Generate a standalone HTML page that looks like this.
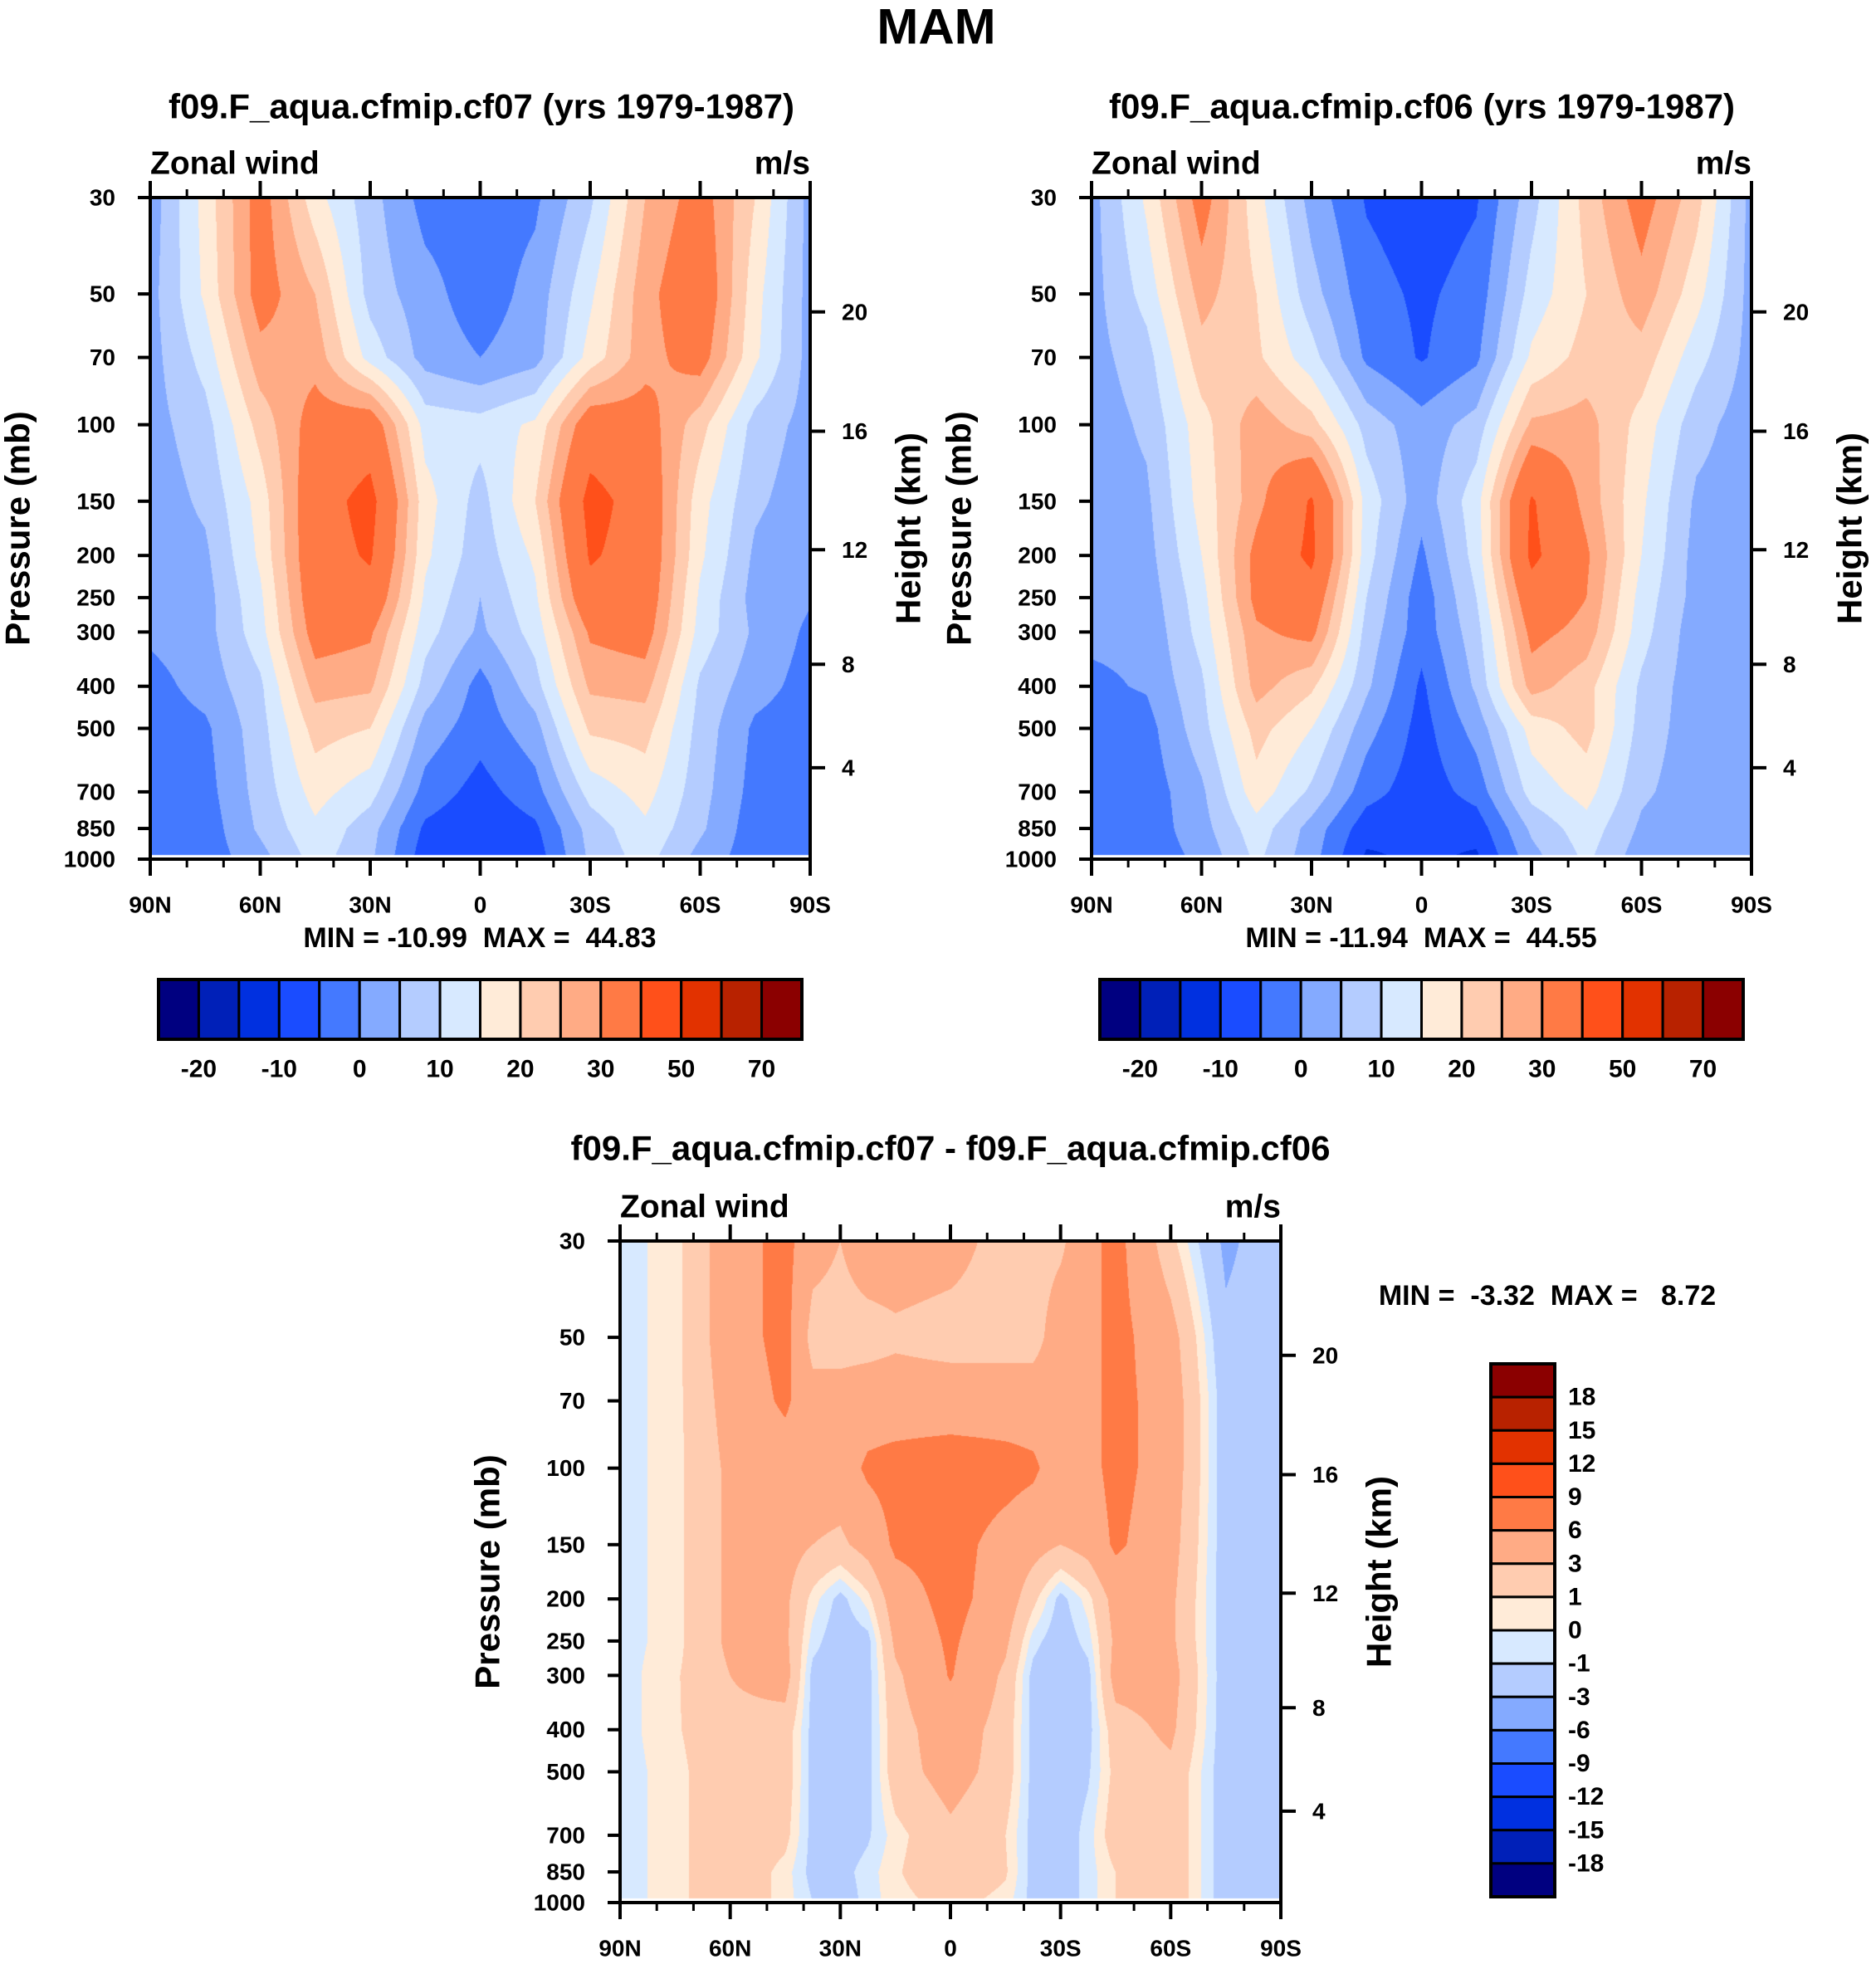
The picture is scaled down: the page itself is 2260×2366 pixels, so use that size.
<!DOCTYPE html>
<html><head><meta charset="utf-8">
<style>
html,body{margin:0;padding:0;background:#fff;}
body{width:2260px;height:2366px;position:relative;overflow:hidden;font-family:"Liberation Sans",Arial,sans-serif;font-weight:bold;color:#000;}
canvas{position:absolute;}
svg{position:absolute;left:0;top:0;}
</style></head>
<body>
<canvas id="c1" style="left:181px;top:238px" width="795" height="797"></canvas>
<canvas id="c2" style="left:1315px;top:238px" width="795" height="797"></canvas>
<canvas id="c3" style="left:747px;top:1495px" width="796" height="797"></canvas>
<svg id="ov" width="2260" height="2366"></svg>
<script>
// ---- data ----
const lats = [90,75,60,45,30,15,0,-15,-30,-45,-60,-75,-90];
const diffLats = [90,75,60,45,37.5,30,22.5,15,0,-15,-22.5,-30,-37.5,-45,-60,-75,-90];
const pLevels = [30,50,70,100,150,200,250,300,400,500,700,850,1000];
const windLevels = [-20,-15,-10,-5,0,5,10,15,20,25,30,40,50,60,70];
const windLabels = ["-20","-10","0","10","20","30","50","70"];
const diffLevels = [-18,-15,-12,-9,-6,-3,-1,0,1,3,6,9,12,15,18];
const diffLabels = ["-18","-15","-12","-9","-6","-3","-1","0","1","3","6","9","12","15","18"];
const colors16 = ["#000080","#0020b8","#0030e0","#1a4cff","#4479ff","#84aaff","#b4ccff","#d7e9ff","#ffebd8","#ffccb0","#ffab85","#ff7a45","#ff501a","#e23200","#b82200","#8b0000"];
const pressTicks = [30,50,70,100,150,200,250,300,400,500,700,850,1000];
const heightTicks = [20,16,12,8,4];
const heightPress = [55,103.5,194,356,616];
const latTicks = ["90N","60N","30N","0","30S","60S","90S"];
const cf07 = [
 [2,17,33,17,7,-2,-3,-1,9,25,33,20,3],
 [3,16,33,25,8,2,-3,2,14,28,36,17,3],
 [3,12,28,28,13,3,0,3,17,28,33,16,3],
 [3,8,22,33,35,13,12,16,35,33,22,8,3],
 [2,6,17,36,43,17,8,20,43,36,17,6,2],
 [2,4,16,36,41,16,7,16,41,36,16,4,1],
 [1,3,14,35,37,14,5,14,37,35,14,3,0.5],
 [1,3,13,33,31,12,4,12,31,33,13,4,-1],
 [-2,2,9,27,26,8,-2,8,26,27,9,2,-2],
 [-3,-1,8,22,20,3,-3,3,21,22,8,-1,-3],
 [-3,-2,7,17,12,-2,-7,-2,12,17,7,-2,-3],
 [-3,-3,6,14,7,-6,-9,-6,7,14,6,-3,-3],
 [-3,-3,3,12,6,-8,-9,-8,6,12,3,-3,-3]];
const cf06 = [
 [3,16,33,17,3,-5.5,-8,-5.5,8,22,33,22,3],
 [3,12,27,20,7,-3,-6,-3,12,20,28,17,3],
 [3,8,23,21,12,-1,-5.5,-1,16,22,23,12,3],
 [2,6,18,28,22,8,2,7,26,27,18,7,2],
 [2,4,17,28,41,13,2,13,41,28,16,4,2],
 [1,3,15,32,42,12,-1,12,42,31,15,3,1],
 [1,2,13,32,36,10,-3,10,36,30,13,3,1],
 [1,1,12,29,32,8,-3,8,32,28,12,2,1],
 [-1,0.5,9,27,21,6,-6,6,27,22,9,2,1],
 [-3,-2,8,22,15,2,-7,2,17,22,8,2,1],
 [-3,-3,4,18,9,-3,-8,-3,12,17,6,2,2],
 [-3,-3,3,13,3,-8,-9,-8,6,13,4,1,1],
 [-3,-3,1,11,2,-11,-9,-11,3,11,2,0.5,1]];
const diff = [
 [-0.5,0.5,4.5,7,4,3,4.5,4.5,4,2,2,2.5,5,7,1.5,-3.5,-1.5],
 [-0.5,0.5,4.5,7,2,2,2,2.5,2,2,2,4.5,5,7,4,-2.5,-1.5],
 [-0.5,0.5,4,6.5,4,4,4.5,4.5,4.5,4.5,4.5,4.5,5,7,4.5,-2,-1.5],
 [-0.5,0.5,3.5,4.5,4.5,4.5,6.5,7,7.5,7,6.5,4.5,5,7,4.5,-2,-1.5],
 [-0.5,0.5,3.5,4,3,2.5,4,6.5,7,5,4,3,4,6.5,4,-2,-1.5],
 [-0.5,0.5,3.5,3.5,0.5,-1.5,0.5,4.5,7,4.5,1.5,-1.5,0.5,4,3.5,-2,-1.5],
 [-0.5,0.5,3.5,3.5,-0.5,-2,-1.5,3.5,6.5,3.5,-0.5,-2,-0.5,3.5,3.5,-2,-1.5],
 [-0.5,0.8,3,4,-1.5,-2,-1.5,2.5,6.2,2.5,-1.5,-2.5,-1.5,4,4,-2,-1.5],
 [-0.5,0.8,2.5,2,-1.5,-2,-1.5,2,4.5,2,-1.5,-2,-1.5,2,3.5,-2,-1.5],
 [-0.5,0.5,2.5,2,-1.5,-2,-1.5,2,4,2,-1.5,-2,-1.2,1.5,2.5,-2,-1.5],
 [-0.5,0.5,2.5,1.5,-1.5,-2,-1.2,0.5,2.5,1,-1.5,-2,-0.5,2,2.5,-2,-1.5],
 [-0.5,0.5,2.5,0.5,-1.5,-1.5,-0.5,0.8,2.5,1.2,-1.5,-2,-0.5,1,2.5,-2,-1.5],
 [-0.5,0.5,2.5,0.5,-1,-2,-0.5,0.5,1.5,0.5,-1.5,-2,-0.5,1,2.5,-2,-1.5]];

// ---- helpers ----
const LN = Math.log(1000/30);
function pFrac(p){return Math.log(p/30)/LN;}
function hexRGB(h){return [parseInt(h.substr(1,2),16),parseInt(h.substr(3,2),16),parseInt(h.substr(5,2),16)];}
const rgb16 = colors16.map(hexRGB);
const lnP = pLevels.map(p=>Math.log(p));
function sample(grid, la, lat, p){
  let i0=0; while(i0<la.length-2 && la[i0+1]>lat) i0++;
  let tx=(la[i0]-lat)/(la[i0]-la[i0+1]); tx=Math.max(0,Math.min(1,tx));
  const lp=Math.log(p);
  let j0=0; while(j0<pLevels.length-2 && lnP[j0+1]<lp) j0++;
  let ty=(lp-lnP[j0])/(lnP[j0+1]-lnP[j0]); ty=Math.max(0,Math.min(1,ty));
  const a=grid[j0][i0],b=grid[j0][i0+1],c=grid[j0+1][i0],d=grid[j0+1][i0+1];
  return (a*(1-tx)+b*tx)*(1-ty)+(c*(1-tx)+d*tx)*ty;
}
function drawField(id, grid, la, levels){
  const cv=document.getElementById(id), ctx=cv.getContext('2d');
  const W=cv.width,H=cv.height, img=ctx.createImageData(W,H);
  for(let y=0;y<H;y++){
    const p=30*Math.exp((y+0.5)/H*LN);
    for(let x=0;x<W;x++){
      const lat=90-180*(x+0.5)/W;
      const v=sample(grid,la,lat,p);
      let k=0; while(k<levels.length && v>=levels[k]) k++;
      const c=rgb16[k], o=(y*W+x)*4;
      img.data[o]=c[0];img.data[o+1]=c[1];img.data[o+2]=c[2];img.data[o+3]=255;
    }
  }
  ctx.putImageData(img,0,0);
  ctx.fillStyle="#fff"; ctx.fillRect(0,H-5,W,4);
}
drawField('c1',cf07,lats,windLevels);
drawField('c2',cf06,lats,windLevels);
drawField('c3',diff,diffLats,diffLevels);

const NS="http://www.w3.org/2000/svg", ov=document.getElementById('ov');
function mk(tag,attrs,parent){const e=document.createElementNS(NS,tag);for(const k in attrs)e.setAttribute(k,attrs[k]);(parent||ov).appendChild(e);return e;}
function txt(s,x,y,size,anchor,parent,rot){
  const t=mk('text',{x:x,y:y,'font-size':size,'text-anchor':anchor||'middle','dominant-baseline':'central','font-family':'Liberation Sans, Arial, sans-serif','font-weight':'bold'},parent);
  if(rot) t.setAttribute('transform','rotate(-90 '+x+' '+y+')');
  t.textContent=s; return t;
}
function axes(L,T,W,H,name){
  const g=mk('g',{});
  
  
  mk('rect',{x:L,y:T,width:W,height:H,fill:'none',stroke:'#000','stroke-width':4},g);
  pressTicks.forEach(p=>{
    const y=T+H*pFrac(p);
    mk('line',{x1:L-15,x2:L,y1:y,y2:y,stroke:'#000','stroke-width':4},g);
    const t=txt(String(p),L-42,y,28,'end',g);
    
    
  });
  heightTicks.forEach((h,i)=>{
    const y=T+H*pFrac(heightPress[i]);
    mk('line',{x1:L+W,x2:L+W+18,y1:y,y2:y,stroke:'#000','stroke-width':4},g);
    const t=txt(String(h),L+W+38,y,28,'start',g);
    
    
  });
  for(let k=0;k<=18;k++){
    const x=L+W*k/18, major=(k%3===0), len=major?20:10;
    mk('line',{x1:x,x2:x,y1:T,y2:T-len,stroke:'#000','stroke-width':major?4:3},g);
    mk('line',{x1:x,x2:x,y1:T+H,y2:T+H+len,stroke:'#000','stroke-width':major?4:3},g);
    if(major){
      const t=txt(latTicks[k/3],x,T+H+55,28,'middle',g);
      
      
    }
  }
  const pt=txt('Pressure (mb)',L-160,T+H/2,42,'middle',g,true);
  
  
  const ht=txt('Height (km)',L+W+118,T+H/2,42,'middle',g,true);
  
  
  const zw=txt('Zonal wind',L,T-41,39,'start',g);
  
  
  const un=txt('m/s',L+W,T-41,39,'end',g);
  
  
}
axes(181,238,795,797,'cf07');
axes(1315,238,795,797,'cf06');
axes(747,1495,796,797,'diff');

function hbar(L,T,W,H,name){
  const g=mk('g',{});
  
  
  const bw=W/16;
  colors16.forEach((c,i)=>{
    const r=mk('rect',{x:L+i*bw,y:T,width:bw,height:H,fill:c,stroke:'#000','stroke-width':3},g);
    
    
  });
  mk('rect',{x:L,y:T,width:W,height:H,fill:'none',stroke:'#000','stroke-width':4},g);
  windLabels.forEach((s,i)=>{
    const t=txt(s,L+bw*(1+2*i),T+H+36,30,'middle',g);
    
    
  });
}
hbar(191,1180,775,72,'cf07-colorbar');
hbar(1325,1180,775,72,'cf06-colorbar');

(function(){
  const L=1796,T=1643,W=77,H=642,g=mk('g',{});
  
  
  const bh=H/16;
  for(let i=0;i<16;i++){
    const r=mk('rect',{x:L,y:T+i*bh,width:W,height:bh,fill:colors16[15-i],stroke:'#000','stroke-width':3},g);
    
    
  }
  mk('rect',{x:L,y:T,width:W,height:H,fill:'none',stroke:'#000','stroke-width':4},g);
  for(let i=0;i<15;i++){
    const t=txt(diffLabels[14-i],L+W+16,T+bh*(i+1),30,'start',g);
    
    
  }
})();

const titles=[["MAM",1128,32,60,'main-title'],
 ["f09.F_aqua.cfmip.cf07 (yrs 1979-1987)",580,128,42,'cf07-title'],
 ["f09.F_aqua.cfmip.cf06 (yrs 1979-1987)",1713,128,42,'cf06-title'],
 ["f09.F_aqua.cfmip.cf07 - f09.F_aqua.cfmip.cf06",1145,1383,42,'diff-title'],
 ["MIN = -10.99  MAX =  44.83",578,1130,34,'cf07-min-max'],
 ["MIN = -11.94  MAX =  44.55",1712,1130,34,'cf06-min-max'],
 ["MIN =  -3.32  MAX =   8.72",1864,1561,34,'diff-min-max']];
titles.forEach(a=>{
  const t=txt(a[0],a[1],a[2],a[3],'middle');
  t.setAttribute('xml:space','preserve');
  t.style.whiteSpace='pre';
  
  
});
</script>
</body></html>
